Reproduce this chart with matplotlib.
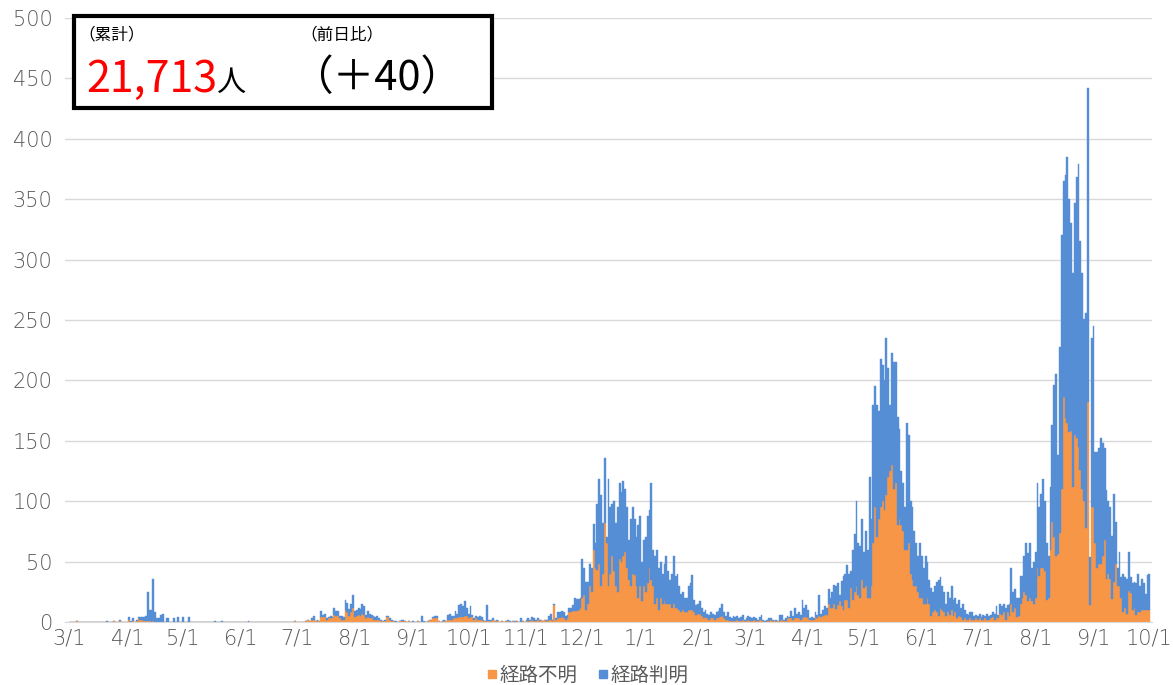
import numpy as np
import pandas as pd
import matplotlib
matplotlib.use("Agg")
import matplotlib.pyplot as plt
from matplotlib.patches import Rectangle
from matplotlib.lines import Line2D

plt.rcParams['font.family'] = ['Noto Sans CJK JP', 'DejaVu Sans']

START = "2020-03-01"

# 経路不明 (unknown route) / 経路判明 (known route), daily counts by month
unknown_2020_03 = [0,0,0,0,1,0,0,0,0,0, 0,0,0,0,0,0,0,0,0,0, 0,0,0,0,1,0,0,1,0,0, 0]
known_2020_03   = [0,0,0,0,0,0,0,0,0,0, 0,0,0,0,0,0,0,0,0,0, 1,0,0,0,0,0,0,1,0,0, 0]
unknown_2020_04 = [0,2,0,1,0,1,3,2,2,1, 1,1,1,0,1,0,0,0,0,0, 0,0,0,0,0,0,0,0,0,0]
known_2020_04   = [0,2,1,2,0,1,1,2,2,3, 4,24,9,10,35,8,3,3,6,7, 0,3,3,0,0,3,0,4,0,0]
unknown_2020_05 = [0,0,0,0,0,0,0,0,0,0, 0,0,0,0,0,0,0,0,0,0, 0,0,0,0,0,0,0,0,0,0, 0]
known_2020_05   = [4,0,0,4,0,0,0,0,0,0, 0,0,0,0,0,0,0,1,0,0, 0,1,0,0,0,0,0,0,0,0, 0]
unknown_2020_06 = [0,0,0,0,0,0,0,0,0,0, 0,0,0,0,0,0,0,0,0,0, 0,0,0,0,0,0,0,0,0,1]
known_2020_06   = [0,0,0,0,1,0,0,0,0,0, 0,0,0,0,0,0,0,0,0,0, 0,0,0,0,0,0,0,0,0,0]
unknown_2020_07 = [0,0,0,0,0,1,2,1,2,2, 1,1,1,4,4,4,2,3,3,3, 6,5,5,3,2,2,10,8,5,8, 12]
known_2020_07   = [0,0,0,0,0,0,0,0,1,3, 0,1,0,5,2,3,1,1,2,1, 6,4,4,2,3,2,8,8,6,7, 10]
unknown_2020_08 = [4,5,6,5,7,6,3,4,3,3, 2,2,2,2,1,1,1,4,4,2, 1,1,0,0,1,1,1,1,0,1, 0]
known_2020_08   = [5,5,6,6,8,7,3,5,4,3, 3,2,3,1,1,0,1,1,1,1, 1,0,1,0,0,1,1,0,0,0, 0]
unknown_2020_09 = [0,0,0,1,0,0,0,0,1,2, 2,3,3,3,1,0,0,1,1,2, 2,2,3,3,3,4,4,4,5,5]
known_2020_09   = [1,0,0,0,0,5,1,0,0,0, 0,1,2,2,0,0,1,1,0,4, 5,3,2,6,4,10,11,9,12,7]
unknown_2020_10 = [3,4,4,2,3,2,2,2,1,1, 1,1,1,2,1,1,1,0,1,0, 1,1,0,0,1,0,1,0,0,1, 0]
known_2020_10   = [4,9,2,1,2,2,3,2,1,0, 13,1,1,1,0,1,0,0,0,0, 0,1,1,0,0,1,0,0,3,0, 0]
unknown_2020_11 = [1,1,1,2,1,1,2,1,2,1, 2,1,2,2,1,14,2,3,3,4, 3,2,3,8,8,9,9,9,10,12]
known_2020_11   = [1,2,1,2,2,1,1,1,0,0, 0,1,3,5,1,1,1,5,5,5, 5,3,3,4,4,5,11,10,9,8]
unknown_2020_12 = [20,22,10,15,30,25,60,45,43,48, 30,40,82,65,30,40,55,42,30,25, 52,50,55,58,45,35,30,40,39,30, 20]
known_2020_12   = [32,23,23,18,18,20,21,20,55,70, 75,42,54,5,88,55,43,58,52,70, 63,58,62,52,50,33,55,55,46,40, 60]
unknown_2021_01 = [30,17,30,25,32,45,35,30,15,20, 10,20,15,17,15,15,15,12,15,12, 12,10,8,10,8,8,10,10,10,8, 6]
known_2021_01   = [58,33,38,45,56,48,80,30,40,40, 35,30,25,31,40,27,20,28,40,26, 28,20,15,15,12,12,20,22,29,10, 8]
unknown_2021_02 = [7,7,5,3,4,3,2,3,3,2, 3,3,4,5,3,2,2,1,1,1, 1,2,1,1,2,1,1,2]
known_2021_02   = [8,10,7,5,6,4,4,5,4,4, 5,6,8,10,5,3,6,3,2,4, 3,3,2,3,4,1,2,3]
unknown_2021_03 = [1,1,2,1,1,2,2,1,0,1, 1,2,1,1,1,1,1,2,1,1, 3,3,3,2,3,3,3,2,3,4, 4]
known_2021_03   = [3,2,2,2,1,2,4,1,1,1, 2,1,1,0,1,0,5,4,1,2, 2,1,6,3,9,4,5,4,15,8, 10]
unknown_2021_04 = [3,2,2,2,4,3,5,4,5,6, 6,15,12,12,15,11,14,17,13,10, 18,18,12,28,18,25,30,22,20,35]
known_2021_04   = [7,1,2,1,4,3,17,3,5,7, 6,12,8,13,16,19,18,5,21,28, 22,29,28,14,42,48,70,43,43,50]
unknown_2021_05 = [28,30,20,20,30,65,95,70,85,95, 100,93,105,120,125,130,110,115,80,85, 80,75,60,60,65,40,35,30,30,25, 20]
known_2021_05   = [30,45,40,100,55,115,100,110,90,123, 113,107,130,90,55,93,105,100,90,75, 45,40,35,105,90,60,60,45,35,30, 45]
unknown_2021_06 = [20,15,15,20,15,5,8,10,8,5, 12,10,8,5,8,6,10,5,8,3, 5,4,2,3,2,2,3,2,2,3]
known_2021_06   = [35,30,40,30,20,23,17,20,25,30, 25,20,17,10,17,14,20,13,12,12, 13,8,13,7,5,4,5,6,3,3]
unknown_2021_07 = [2,3,2,2,3,2,2,3,4,2, 4,3,7,6,8,2,8,5,15,8, 12,4,5,15,20,25,22,17,20,17, 15]
known_2021_07   = [3,4,2,4,2,5,3,3,4,5, 9,3,8,7,7,10,6,10,30,17, 15,16,15,23,18,30,43,40,45,28, 35]
unknown_2021_08 = [20,45,38,45,45,42,18,20,60,83, 70,55,56,74,110,186,169,165,157,158, 112,155,152,145,126,110,100,78,182,14, 95]
known_2021_08   = [38,70,57,61,73,58,47,35,52,80, 126,150,82,154,210,179,201,220,193,172, 177,192,216,234,189,179,151,178,260,40, 140]
unknown_2021_09 = [95,65,45,48,48,55,68,36,40,36, 19,33,48,30,30,20,8,12,7,26, 24,10,12,6,8,8,10,10,10,10]
known_2021_09   = [150,76,96,96,104,93,76,73,60,59, 52,73,35,15,28,17,32,25,29,32, 13,22,21,26,32,22,26,22,13,29]
unknown_2021_10 = [10]
known_2021_10   = [30]

legend_labels = ["経路不明", "経路判明"]
cumulative_text = "21,713"
diff_text = "（＋40）"

unknown = (unknown_2020_03 + unknown_2020_04 + unknown_2020_05 + unknown_2020_06 +
           unknown_2020_07 + unknown_2020_08 + unknown_2020_09 + unknown_2020_10 +
           unknown_2020_11 + unknown_2020_12 + unknown_2021_01 + unknown_2021_02 +
           unknown_2021_03 + unknown_2021_04 + unknown_2021_05 + unknown_2021_06 +
           unknown_2021_07 + unknown_2021_08 + unknown_2021_09 + unknown_2021_10)
known = (known_2020_03 + known_2020_04 + known_2020_05 + known_2020_06 +
         known_2020_07 + known_2020_08 + known_2020_09 + known_2020_10 +
         known_2020_11 + known_2020_12 + known_2021_01 + known_2021_02 +
         known_2021_03 + known_2021_04 + known_2021_05 + known_2021_06 +
         known_2021_07 + known_2021_08 + known_2021_09 + known_2021_10)

n = len(unknown)
dates = pd.date_range(START, periods=n, freq="D")
x = np.arange(n)

W, H = 1173, 685
fig = plt.figure(figsize=(W / 100, H / 100), dpi=100)
ax = fig.add_axes([65 / W, 1 - 622 / H, (1152 - 65) / W, (622 - 18) / H])

C_ORANGE = "#F79646"
C_BLUE = "#558ED5"
GRAY = "#595959"

ax.bar(x, unknown, width=1.0, color=C_ORANGE, edgecolor=C_ORANGE, linewidth=0.3)
ax.bar(x, known, bottom=unknown, width=1.0, color=C_BLUE, edgecolor=C_BLUE, linewidth=0.3)

ax.set_xlim(-2.4, n + 0.4)
ax.set_ylim(0, 500)
ax.set_yticks(np.arange(0, 501, 50))
ax.yaxis.grid(True, color="#D9D9D9", linewidth=1)
ax.set_axisbelow(True)

month_pos = [i for i, d in enumerate(dates) if d.day == 1]
month_lab = [f"{dates[i].month}/{dates[i].day}" for i in month_pos]
ax.set_xticks(month_pos)
ax.set_xticklabels(month_lab)

for s in ["top", "right", "left"]:
    ax.spines[s].set_visible(False)
ax.spines["bottom"].set_color("#D9D9D9")
ax.tick_params(axis="both", length=0, labelcolor=GRAY, labelsize=15)
ax.tick_params(axis="y", pad=9)
ax.tick_params(axis="x", pad=5)
for lab in ax.get_xticklabels() + ax.get_yticklabels():
    lab.set_fontfamily(["DejaVu Sans"])
    lab.set_fontweight("light")

handles = [Line2D([], [], marker="s", linestyle="none", color=C_ORANGE, markersize=6),
           Line2D([], [], marker="s", linestyle="none", color=C_BLUE, markersize=6)]
fig.legend(handles, legend_labels, loc="center", bbox_to_anchor=(587 / W, 1 - 675 / H),
           ncol=2, frameon=False, fontsize=14, handlelength=0.6, handletextpad=0.1,
           columnspacing=1.0, labelcolor=GRAY)

# summary box
def fx(px):
    return px / W

def fy(py):
    return 1 - py / H

box = Rectangle((fx(74), fy(108)), fx(492) - fx(74), fy(16) - fy(108),
                transform=fig.transFigure, facecolor="white", edgecolor="black",
                linewidth=3, zorder=10)
fig.add_artist(box)
fig.text(fx(78), fy(39), "（累計）", fontsize=12, color="black", va="baseline", zorder=11)
fig.text(fx(300), fy(39), "（前日比）", fontsize=12, color="black", va="baseline", zorder=11)
fig.text(fx(86), fy(92), cumulative_text, fontsize=31, color="#FF0000", va="baseline", zorder=11)
fig.text(fx(216), fy(91), "人", fontsize=21, color="black", va="baseline", zorder=11)
fig.text(fx(291), fy(90), diff_text, fontsize=30, color="black", va="baseline", zorder=11)

fig.savefig("out.png", dpi=100)
